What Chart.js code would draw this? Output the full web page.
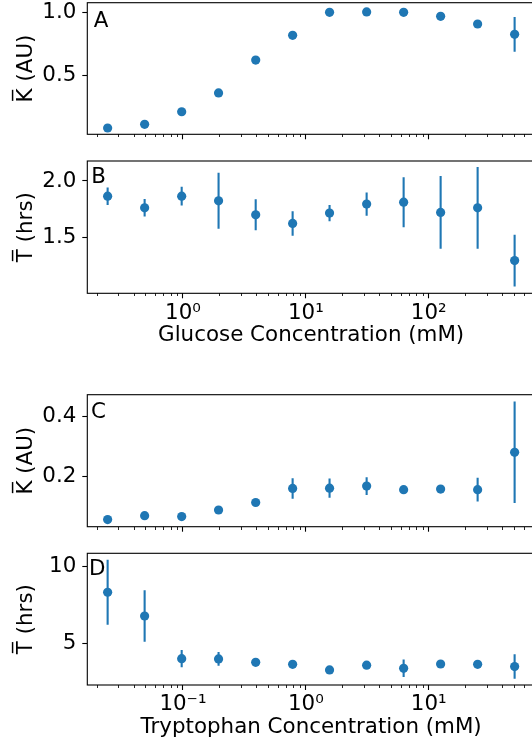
<!DOCTYPE html>
<html>
<head>
<meta charset="utf-8">
<script src="https://cdn.jsdelivr.net/npm/chart.js@4"></script>
<style>
html, body { margin: 0; padding: 0; background: #fff; overflow: hidden; width: 532px; height: 744px; }
#wrap { position: relative; width: 532px; height: 744px; overflow: hidden; background: #fff; }
canvas { position: absolute; left: 0; }
</style>
</head>
<body>
<div id="wrap">
  <canvas id="cA"></canvas>
  <canvas id="cB"></canvas>
  <canvas id="cC"></canvas>
  <canvas id="cD"></canvas>
</div>
<script>
// ---------------- DATA ----------------
const glucoseConc = [0.244, 0.488, 0.977, 1.95, 3.91, 7.81, 15.6, 31.25, 62.5, 125, 250, 500];
const glucoseK    = [0.082, 0.111, 0.211, 0.360, 0.621, 0.817, 1.000, 1.003, 1.000, 0.968, 0.907, 0.825];
const glucoseKErr = [0.005, 0.008, 0.010, 0.012, 0.015, 0.018, 0.015, 0.012, 0.015, 0.020, 0.025, 0.138];
const glucoseT    = [1.866, 1.763, 1.866, 1.825, 1.702, 1.626, 1.717, 1.796, 1.813, 1.723, 1.763, 1.298];
const glucoseTErr = [0.077, 0.077, 0.083, 0.247, 0.136, 0.108, 0.072, 0.103, 0.220, 0.320, 0.360, 0.228];

const tryptophanConc = [0.0244, 0.0488, 0.0977, 0.195, 0.391, 0.781, 1.56, 3.125, 6.25, 12.5, 25, 50];
const tryptophanK    = [0.055, 0.068, 0.065, 0.087, 0.112, 0.159, 0.160, 0.167, 0.155, 0.157, 0.155, 0.280];
const tryptophanKErr = [0.003, 0.004, 0.004, 0.005, 0.008, 0.034, 0.032, 0.030, 0.010, 0.012, 0.040, 0.170];
const tryptophanT    = [8.33, 6.78, 4.00, 3.98, 3.76, 3.63, 3.26, 3.57, 3.37, 3.65, 3.63, 3.48];
const tryptophanTErr = [2.12, 1.68, 0.57, 0.45, 0.15, 0.20, 0.10, 0.20, 0.57, 0.20, 0.15, 0.80];

// tick values and labels
const glucoseMajorTicks  = [1, 10, 100];
const glucoseMajorLabels = ['10\u2070', '10\u00B9', '10\u00B2'];
const glucoseMinorTicks  = [0.2, 0.3, 0.4, 0.5, 0.6, 0.7, 0.8, 0.9, 2, 3, 4, 5, 6, 7, 8, 9,
                            20, 30, 40, 50, 60, 70, 80, 90, 200, 300, 400, 500, 600, 700];
const tryptophanMajorTicks  = [0.1, 1, 10];
const tryptophanMajorLabels = ['10\u207B\u00B9', '10\u2070', '10\u00B9'];
const tryptophanMinorTicks  = [0.02, 0.03, 0.04, 0.05, 0.06, 0.07, 0.08, 0.09, 0.2, 0.3, 0.4, 0.5, 0.6, 0.7, 0.8, 0.9,
                               2, 3, 4, 5, 6, 7, 8, 9, 20, 30, 40, 50, 60, 70];
const yTicksA = [0.5, 1.0];  const yLabelsA = ['0.5', '1.0'];
const yTicksB = [1.5, 2.0];  const yLabelsB = ['1.5', '2.0'];
const yTicksC = [0.2, 0.4];  const yLabelsC = ['0.2', '0.4'];
const yTicksD = [5, 10];     const yLabelsD = ['5', '10'];

const glucoseRange = [0.1667, 732.5];
const tryptophanRange = [0.01667, 73.25];
const yRangeA = [0.032, 1.076];
const yRangeB = [1.010, 2.176];
const yRangeC = [0.031, 0.473];
const yRangeD = [2.28, 10.87];

const titleK = 'K\u0305 (AU)';
const titleT = 'T\u0305 (hrs)';
const titleGlucose = 'Glucose Concentration (mM)';
const titleTryptophan = 'Tryptophan Concentration (mM)';

// ---------------- STYLE / LAYOUT ----------------
const FONT_FAMILY = '"DejaVu Sans", sans-serif';
const FONT_SIZE = 21.4;
const BLUE = '#1f77b4';
const CANVAS_W = 565;
const PLOT_LEFT = 87.3;
const PLOT_RIGHT = 535;

function errorSegments(xs, ys, es) {
  const pts = [];
  xs.forEach((x, i) => {
    pts.push({x: x, y: ys[i] - es[i]});
    pts.push({x: x, y: ys[i] + es[i]});
    pts.push({x: x, y: null});
  });
  return pts;
}

function buildPanel(p) {
  const canvas = document.getElementById(p.canvas);
  const canvasTop = Math.floor(p.top) - 22;
  const xAxisH = p.showXLabels ? 55 : 8;
  const canvasH = Math.ceil(p.bottom + xAxisH + 22) - canvasTop;
  const padTop = p.top - canvasTop;
  const padBottom = canvasH - (p.bottom - canvasTop) - xAxisH;
  canvas.width = CANVAS_W;
  canvas.height = canvasH;
  canvas.style.width = CANVAS_W + 'px';
  canvas.style.height = canvasH + 'px';
  canvas.style.top = canvasTop + 'px';

  const font = {family: FONT_FAMILY, size: FONT_SIZE};

  const framePlugin = {
    id: 'frame' + p.letter,
    afterDatasetsDraw(chart) {
      const a = chart.chartArea, ctx = chart.ctx;
      ctx.save();
      ctx.strokeStyle = '#000';
      ctx.lineWidth = 1.1;
      ctx.strokeRect(a.left, a.top, a.right - a.left, a.bottom - a.top);
      ctx.restore();
    }
  };
  const letterPlugin = {
    id: 'letter' + p.letter,
    afterDraw(chart) {
      const a = chart.chartArea, ctx = chart.ctx;
      ctx.save();
      ctx.font = FONT_SIZE + 'px ' + FONT_FAMILY;
      ctx.fillStyle = '#000';
      ctx.textBaseline = 'alphabetic';
      ctx.textAlign = 'left';
      ctx.fillText(p.letter, a.left + p.letterDx, a.top + p.letterDy);
      ctx.restore();
    }
  };

  new Chart(canvas, {
    type: 'scatter',
    data: {
      datasets: [
        {
          data: p.xs.map((x, i) => ({x: x, y: p.ys[i]})),
          backgroundColor: BLUE, borderColor: BLUE, borderWidth: 0,
          pointRadius: 4.6, pointHoverRadius: 4.6, showLine: false
        },
        {
          data: errorSegments(p.xs, p.ys, p.es),
          showLine: true, spanGaps: false, borderColor: BLUE, borderWidth: 2.1,
          pointRadius: 0, pointHoverRadius: 0, fill: false
        }
      ]
    },
    options: {
      responsive: false, animation: false, devicePixelRatio: 1,
      events: [],
      layout: {padding: {top: padTop, bottom: padBottom, left: 0, right: CANVAS_W - PLOT_RIGHT}},
      plugins: {legend: {display: false}, tooltip: {enabled: false}},
      scales: {
        x: {
          type: 'logarithmic', position: 'bottom', min: p.xRange[0], max: p.xRange[1],
          afterBuildTicks: s => { s.ticks = p.majorTicks.map(v => ({value: v, major: true})); },
          afterFit: s => { s.height = xAxisH; },
          grid: {drawOnChartArea: false, drawTicks: true, tickLength: 5, tickWidth: 1.1, tickColor: '#000'},
          border: {display: false},
          ticks: {display: p.showXLabels, autoSkip: false, maxRotation: 0, minRotation: 0, padding: 2,
                  color: '#000', font: font, callback: (v, i) => p.majorLabels[i]},
          title: {display: p.showXLabels, text: p.xTitle, color: '#000', font: font, padding: {top: 0, bottom: 0}}
        },
        xm: {
          axis: 'x', type: 'logarithmic', position: {y: p.yRange[0]}, min: p.xRange[0], max: p.xRange[1],
          afterBuildTicks: s => { s.ticks = p.minorTicks.map(v => ({value: v})); },
          grid: {drawOnChartArea: false, drawTicks: true, tickLength: 3, tickWidth: 0.85, tickColor: '#000'},
          border: {display: false},
          ticks: {display: false, autoSkip: false}
        },
        y: {
          type: 'linear', position: 'left', min: p.yRange[0], max: p.yRange[1],
          afterBuildTicks: s => { s.ticks = p.yTicks.map(v => ({value: v})); },
          afterFit: s => { s.width = PLOT_LEFT; },
          grid: {drawOnChartArea: false, drawTicks: true, tickLength: 5, tickWidth: 1.1, tickColor: '#000'},
          border: {display: false},
          ticks: {padding: 6, color: '#000', font: font, callback: (v, i) => p.yLabels[i]},
          title: {display: true, text: p.yTitle, color: '#000', font: font, padding: {top: 13.2, bottom: 0}}
        }
      }
    },
    plugins: [framePlugin, letterPlugin]
  });
}

buildPanel({canvas: 'cA', letter: 'A', letterDx: 6.5, letterDy: 23.8, top: 2.7, bottom: 134.3, showXLabels: false,
  xs: glucoseConc, ys: glucoseK, es: glucoseKErr, xRange: glucoseRange, yRange: yRangeA,
  majorTicks: glucoseMajorTicks, majorLabels: glucoseMajorLabels, minorTicks: glucoseMinorTicks,
  yTicks: yTicksA, yLabels: yLabelsA, yTitle: titleK, xTitle: ''});
buildPanel({canvas: 'cB', letter: 'B', letterDx: 4, letterDy: 21.7, top: 161, bottom: 293.3, showXLabels: true,
  xs: glucoseConc, ys: glucoseT, es: glucoseTErr, xRange: glucoseRange, yRange: yRangeB,
  majorTicks: glucoseMajorTicks, majorLabels: glucoseMajorLabels, minorTicks: glucoseMinorTicks,
  yTicks: yTicksB, yLabels: yLabelsB, yTitle: titleT, xTitle: titleGlucose});
buildPanel({canvas: 'cC', letter: 'C', letterDx: 3.8, letterDy: 23, top: 394.7, bottom: 526.7, showXLabels: false,
  xs: tryptophanConc, ys: tryptophanK, es: tryptophanKErr, xRange: tryptophanRange, yRange: yRangeC,
  majorTicks: tryptophanMajorTicks, majorLabels: tryptophanMajorLabels, minorTicks: tryptophanMinorTicks,
  yTicks: yTicksC, yLabels: yLabelsC, yTitle: titleK, xTitle: ''});
buildPanel({canvas: 'cD', letter: 'D', letterDx: 1.7, letterDy: 21.7, top: 553.3, bottom: 685, showXLabels: true,
  xs: tryptophanConc, ys: tryptophanT, es: tryptophanTErr, xRange: tryptophanRange, yRange: yRangeD,
  majorTicks: tryptophanMajorTicks, majorLabels: tryptophanMajorLabels, minorTicks: tryptophanMinorTicks,
  yTicks: yTicksD, yLabels: yLabelsD, yTitle: titleT, xTitle: titleTryptophan});
</script>
</body>
</html>
